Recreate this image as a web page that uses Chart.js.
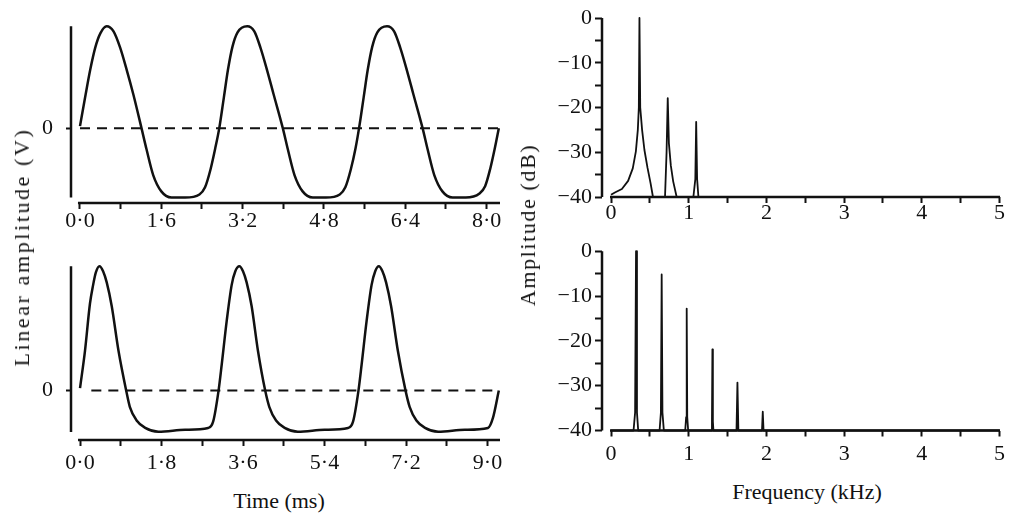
<!DOCTYPE html>
<html>
<head>
<meta charset="utf-8">
<script src="https://cdn.jsdelivr.net/npm/chart.js@4.4.1/dist/chart.umd.min.js"></script>
<style>
  html, body { margin: 0; padding: 0; background: #fff; }
  #wrap { position: relative; width: 1013px; height: 513px; overflow: hidden;
          font-family: "Liberation Serif", "DejaVu Serif", serif; color: #111; }
  canvas { position: absolute; }
  .t { position: absolute; white-space: nowrap; font-size: 22px; line-height: 1; }
  .rot { transform: translate(-50%, -50%) rotate(-90deg); }
  .hor { transform: translate(-50%, -50%); }
</style>
</head>
<body>
<div id="wrap">
  <canvas id="waveTop" style="left:0px;top:0px" width="510" height="240"></canvas>
  <canvas id="waveBot" style="left:0px;top:240px" width="510" height="240"></canvas>
  <canvas id="specTop" style="left:505px;top:0px" width="508" height="235"></canvas>
  <canvas id="specBot" style="left:505px;top:235px" width="508" height="240"></canvas>

  <div class="t rot" style="left:22px;top:247px;letter-spacing:2.6px">Linear amplitude (V)</div>
  <div class="t rot" style="left:528px;top:225px;letter-spacing:1.6px">Amplitude (dB)</div>
  <div class="t hor" style="left:279px;top:501px">Time (ms)</div>
  <div class="t hor" style="left:807px;top:492px">Frequency (kHz)</div>
</div>
<script>
// values
// waveforms: time in ms, amplitude scaled so the peak is 1
const waveTopTime = [0.00, 0.10, 0.20, 0.30, 0.40, 0.525, 0.66, 0.79, 0.92, 1.05, 1.21, 1.31, 1.44, 1.60, 1.80, 2.07, 2.35, 2.46, 2.57, 2.66,
  2.74, 2.83, 2.91, 3.00, 3.10, 3.29, 3.43, 3.55, 3.68, 3.81, 3.99, 4.09, 4.22, 4.38, 4.58, 4.84, 5.11, 5.22, 5.33, 5.42,
  5.49, 5.58, 5.66, 5.75, 5.85, 6.04, 6.18, 6.30, 6.43, 6.56, 6.74, 6.84, 6.97, 7.13, 7.33, 7.59, 7.86, 7.97, 8.07, 8.16, 8.24];
const waveTopAmp = [0.02, 0.30, 0.57, 0.79, 0.93, 1.00, 0.95, 0.79, 0.57, 0.33, 0.00, -0.21, -0.46, -0.62, -0.68, -0.68, -0.65, -0.58, -0.40, -0.20,
  0.00, 0.30, 0.57, 0.80, 0.94, 1.00, 0.95, 0.79, 0.57, 0.33, 0.00, -0.21, -0.46, -0.62, -0.68, -0.68, -0.65, -0.58, -0.40, -0.20,
  0.00, 0.30, 0.57, 0.80, 0.94, 1.00, 0.95, 0.79, 0.57, 0.33, 0.00, -0.21, -0.46, -0.62, -0.68, -0.68, -0.64, -0.57, -0.40, -0.20, 0.00];

const waveBotTime = [0.00, 0.11, 0.22, 0.29, 0.35, 0.43, 0.51, 0.59, 0.70, 0.85, 1.02, 1.10, 1.25, 1.44, 1.73, 2.32, 2.83, 2.94,
  3.06, 3.13, 3.24, 3.35, 3.43, 3.52, 3.60, 3.68, 3.79, 3.93, 4.09, 4.18, 4.33, 4.52, 4.81, 5.40, 5.92, 6.03,
  6.15, 6.22, 6.33, 6.44, 6.52, 6.60, 6.68, 6.76, 6.87, 7.02, 7.19, 7.28, 7.43, 7.62, 7.91, 8.50, 9.01, 9.12, 9.25];
const waveBotAmp = [0.02, 0.32, 0.70, 0.85, 0.95, 1.00, 0.96, 0.87, 0.68, 0.32, 0.00, -0.13, -0.24, -0.30, -0.33, -0.315, -0.30, -0.25,
  0.00, 0.21, 0.56, 0.85, 0.96, 1.00, 0.96, 0.87, 0.68, 0.32, 0.00, -0.13, -0.24, -0.30, -0.33, -0.315, -0.30, -0.25,
  0.00, 0.21, 0.56, 0.85, 0.96, 1.00, 0.96, 0.87, 0.68, 0.32, 0.00, -0.13, -0.24, -0.30, -0.33, -0.315, -0.30, -0.22, 0.00];

// zero reference (dashed) line, start and end time
const zeroTopTime = [0.00, 8.24];
const zeroBotTime = [0.25, 9.25];

// spectra: frequency in kHz, level in dB
const specTopFreq = [0.00, 0.05, 0.14, 0.22, 0.28, 0.32, 0.345, 0.358, 0.366, 0.376, 0.40, 0.43, 0.47, 0.51, 0.54,
  0.695, 0.715, 0.73, 0.745, 0.77, 0.80, 0.845, 1.06, 1.085, 1.096, 1.108, 1.125, 5.00];
const specTopDb = [-39.5, -39.0, -38.2, -36.4, -33.6, -29.8, -25.0, -20.0, 0.0, -20.0, -25.0, -29.5, -33.5, -37.0, -40.0,
  -40.0, -30.0, -17.9, -28.0, -33.0, -36.5, -40.0, -40.0, -36.0, -23.2, -36.0, -40.0, -40.0];

const specBotFreq = [0.00, 0.29, 0.31, 0.322, 0.334, 0.35, 0.625, 0.642, 0.652, 0.662, 0.68, 0.955, 0.967, 0.974, 0.981, 0.993,
  1.292, 1.299, 1.305, 1.311, 1.318, 1.615, 1.627, 1.639, 1.943, 1.953, 1.963, 5.00];
const specBotDb = [-40, -40, -36, 0, -36, -40, -40, -36, -5.2, -36, -40, -40, -37, -12.8, -37, -40,
  -40, -38, -21.9, -38, -40, -40, -29.3, -40, -40, -35.8, -40, -40];

// ticks (labels on every other tick)
const timeTicksTop = [0, 0.8, 1.6, 2.4, 3.2, 4.0, 4.8, 5.6, 6.4, 7.2, 8.0];
const timeLabelsTop = ['0·0', '1·6', '3·2', '4·8', '6·4', '8·0'];
const timeTicksBot = [0, 0.9, 1.8, 2.7, 3.6, 4.5, 5.4, 6.3, 7.2, 8.1, 9.0];
const timeLabelsBot = ['0·0', '1·8', '3·6', '5·4', '7·2', '9·0'];
const ampTicks = [0];
const ampLabels = ['0'];
const freqTicks = [0, 0.5, 1, 1.5, 2, 2.5, 3, 3.5, 4, 4.5, 5];
const freqLabels = ['0', '1', '2', '3', '4', '5'];
const dbTicks = [-40, -35, -30, -25, -20, -15, -10, -5, 0];
const dbLabels = ['\u221240', '\u221230', '\u221220', '\u221210', '0'];

const INK = '#111';
Chart.defaults.font.family = "'Liberation Serif', 'DejaVu Serif', serif";
Chart.defaults.color = INK;

const pts = (xs, ys) => xs.map((x, i) => ({ x: x, y: ys[i] }));

// detached axis lines drawn at scale values
const axisLines = {
  id: 'axisLines',
  afterDatasetsDraw(chart, args, o) {
    const { ctx, chartArea: a, scales: { x, y } } = chart;
    ctx.save();
    ctx.strokeStyle = INK;
    ctx.lineWidth = 2.5;
    ctx.beginPath();
    ctx.moveTo(a.left, y.getPixelForValue(o.yTop));
    ctx.lineTo(a.left, y.getPixelForValue(o.yBottom));
    ctx.moveTo(x.getPixelForValue(o.xStart), a.bottom);
    ctx.lineTo(x.getPixelForValue(o.xEnd), a.bottom);
    ctx.stroke();
    ctx.restore();
  }
};

function panel(id, c) {
  return new Chart(document.getElementById(id), {
    type: 'line',
    data: { datasets: c.datasets },
    options: {
      responsive: false,
      animation: false,
      events: [],
      layout: { padding: c.padding },
      plugins: { legend: { display: false }, tooltip: { enabled: false }, axisLines: c.lines },
      scales: {
        x: {
          type: 'linear', min: c.xMin, max: c.xMax,
          afterBuildTicks: s => { s.ticks = c.xTicks.map(v => ({ value: v })); },
          afterFit: s => { s.height = c.xHeight; },
          ticks: { autoSkip: false, maxRotation: 0, padding: c.xPad, font: { size: 22 },
                   callback: (v, i) => i % 2 ? '' : c.xLabels[i / 2] },
          grid: { drawOnChartArea: false, tickLength: 6, tickWidth: 2, tickColor: INK },
          border: { display: false }
        },
        y: {
          type: 'linear', min: c.yMin, max: c.yMax,
          afterBuildTicks: s => { s.ticks = c.yTicks.map(v => ({ value: v })); },
          afterFit: s => { s.width = c.yWidth; },
          ticks: { autoSkip: false, padding: c.yPad, font: { size: 22 },
                   callback: (v, i) => c.yLabels.length === 1 ? c.yLabels[0] : (i % 2 ? '' : c.yLabels[i / 2]) },
          grid: { drawOnChartArea: false, tickLength: c.yTickLen, tickWidth: 2, tickColor: INK },
          border: { display: false }
        }
      }
    },
    plugins: [axisLines]
  });
}

const waveStyle = { borderColor: INK, borderWidth: 2.5, pointRadius: 0, cubicInterpolationMode: 'monotone', clip: false };
const zeroStyle = { borderColor: INK, borderWidth: 2, pointRadius: 0, borderDash: [10, 7], clip: false };
const specStyle = { borderColor: INK, borderWidth: 1.8, pointRadius: 0, tension: 0, borderJoinStyle: 'round', clip: false };

panel('waveTop', {
  datasets: [
    Object.assign({ data: pts(zeroTopTime, [0, 0]) }, zeroStyle),
    Object.assign({ data: pts(waveTopTime, waveTopAmp) }, waveStyle)
  ],
  padding: { left: 0, right: 10, top: 11, bottom: 0 },
  xMin: -0.177, xMax: 8.263, xTicks: timeTicksTop, xLabels: timeLabelsTop, xHeight: 37, xPad: -1,
  yMin: -0.734, yMax: 1.0, yTicks: ampTicks, yLabels: ampLabels, yWidth: 71, yPad: 13, yTickLen: 5,
  lines: { yTop: 1.0, yBottom: -0.68, xStart: -0.04, xEnd: 8.263 }
});

panel('waveBot', {
  datasets: [
    Object.assign({ data: pts(zeroBotTime, [0, 0]) }, zeroStyle),
    Object.assign({ data: pts(waveBotTime, waveBotAmp) }, waveStyle)
  ],
  padding: { left: 0, right: 10, top: 3, bottom: 0 },
  xMin: -0.199, xMax: 9.276, xTicks: timeTicksBot, xLabels: timeLabelsBot, xHeight: 40, xPad: 4,
  yMin: -0.397, yMax: 1.0, yTicks: ampTicks, yLabels: ampLabels, yWidth: 71, yPad: 13, yTickLen: 5,
  lines: { yTop: 1.0, yBottom: -0.333, xStart: -0.044, xEnd: 9.276 }
});

panel('specTop', {
  datasets: [Object.assign({ data: pts(specTopFreq, specTopDb) }, specStyle)],
  padding: { left: 0, right: 13, top: 18, bottom: 0 },
  xMin: -0.116, xMax: 5.006, xTicks: freqTicks, xLabels: freqLabels, xHeight: 38, xPad: -3,
  yMin: -40, yMax: 0, yTicks: dbTicks, yLabels: dbLabels, yWidth: 97, yPad: 3, yTickLen: 7,
  lines: { yTop: 0, yBottom: -40, xStart: -0.013, xEnd: 5.006 }
});

panel('specBot', {
  datasets: [Object.assign({ data: pts(specBotFreq, specBotDb) }, specStyle)],
  padding: { left: 0, right: 13, top: 14, bottom: 0 },
  xMin: -0.116, xMax: 5.006, xTicks: freqTicks, xLabels: freqLabels, xHeight: 44.5, xPad: 5,
  yMin: -40, yMax: 0, yTicks: dbTicks, yLabels: dbLabels, yWidth: 97, yPad: 3, yTickLen: 7,
  lines: { yTop: 0, yBottom: -40, xStart: -0.013, xEnd: 5.006 }
});
</script>
</body>
</html>
